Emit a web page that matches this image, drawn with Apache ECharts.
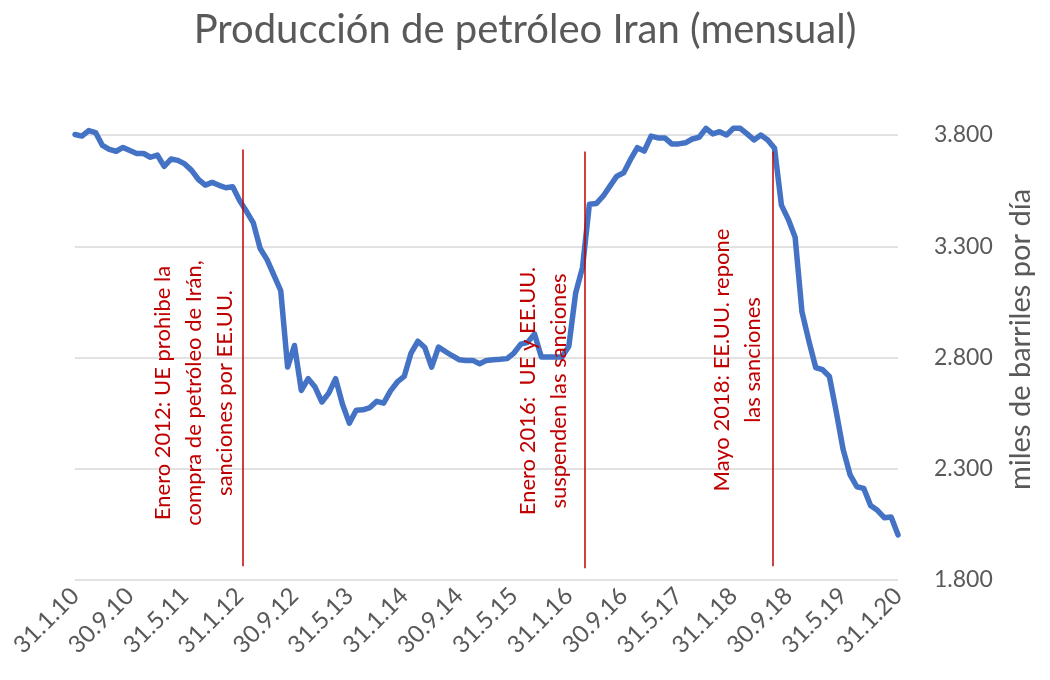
<!DOCTYPE html>
<html>
<head>
<meta charset="utf-8">
<title>Producción de petróleo Iran</title>
<script src="https://cdn.jsdelivr.net/npm/echarts@6/dist/echarts.min.js"></script>
<style>
  html, body { margin: 0; padding: 0; background: #fff; }
  #chart { width: 1050px; height: 680px; }
</style>
</head>
<body>
<div id="chart"></div>
<script>
// etiquetas del eje x, una cada 8 meses (ene 2010 .. ene 2020)
const tickLabels = [
  "31.1.10", "30.9.10", "31.5.11", "31.1.12", "30.9.12", "31.5.13", "31.1.14", "30.9.14",
  "31.5.15", "31.1.16", "30.9.16", "31.5.17", "31.1.18", "30.9.18", "31.5.19", "31.1.20"
];

// miles de barriles por día, mensual desde enero 2010
const production = [
  3802, 3795, 3820, 3811, 3753, 3735, 3727, 3744, 3730, 3717,
  3717, 3700, 3710, 3659, 3692, 3686, 3670, 3641, 3600, 3575,
  3587, 3574, 3563, 3567, 3505, 3457, 3405, 3290, 3240, 3170,
  3100, 2757, 2854, 2652, 2705, 2667, 2600, 2640, 2705, 2590,
  2505, 2563, 2565, 2575, 2603, 2595, 2650, 2690, 2715, 2820,
  2873, 2845, 2757, 2847, 2827, 2808, 2790, 2787, 2787, 2772,
  2787, 2790, 2792, 2795, 2820, 2860, 2868, 2906, 2802, 2802,
  2802, 2802, 2850, 3090, 3205, 3489, 3492, 3525, 3570, 3615,
  3630, 3690, 3743, 3728, 3795, 3787, 3787, 3760, 3760, 3765,
  3782, 3790, 3830, 3805, 3815, 3800, 3830, 3830, 3805, 3778,
  3800, 3778, 3740, 3485, 3421, 3340, 3005, 2875, 2755, 2745,
  2715, 2555, 2387, 2274, 2219, 2212, 2135, 2113, 2080, 2083,
  2003
];

// sucesos marcados con línea roja (posición en meses desde ene 2010)
const eventMonths = [24.4, 74.3, 101.7];
const eventTop = [3735, 3726, 3726];
const eventBottom = [1862, 1853, 1862];
const eventTexts = [
  "Enero 2012: UE prohibe la\ncompra de petróleo de Irán,\nsanciones por EE.UU.",
  "Enero 2016:  UE y EE.UU.\nsuspenden las sanciones",
  "Mayo 2018: EE.UU. repone\nlas sanciones"
];
const textPos = [[194, 393], [543, 391], [737, 360]];

const FONT = "Lato";
const GREY = "#595959";
const RED = "#C00000";

const myChart = echarts.init(document.getElementById("chart"), null, { renderer: "canvas" });

const option = {
  animation: false,
  backgroundColor: "#fff",
  textStyle: { fontFamily: FONT },
  title: {
    text: "Producción de petróleo Iran (mensual)",
    left: "center",
    top: 5,
    textStyle: { fontFamily: FONT, fontSize: 40, fontWeight: "normal", color: GREY }
  },
  grid: { left: 75, right: 152, top: 135, bottom: 100 },
  xAxis: {
    type: "value",
    min: 0,
    max: 120,
    interval: 8,
    axisLine: { show: false },
    axisTick: { show: false },
    splitLine: { show: false },
    axisLabel: {
      rotate: 45,
      margin: 12,
      color: GREY,
      fontFamily: FONT,
      fontSize: 24,
      formatter: (v) => tickLabels[Math.round(v / 8)]
    }
  },
  yAxis: {
    type: "value",
    position: "right",
    min: 1800,
    max: 3800,
    interval: 500,
    axisLine: { show: false },
    axisTick: { show: false },
    splitLine: { lineStyle: { color: "#D9D9D9", width: 1.5 } },
    axisLabel: {
      margin: 36,
      color: GREY,
      fontFamily: FONT,
      fontSize: 23,
      formatter: (v) => String(v).replace(/\B(?=(\d{3})+(?!\d))/g, ".")
    },
    name: "miles de barriles por día",
    nameLocation: "middle",
    nameRotate: 90,
    nameGap: 108,
    nameTextStyle: { color: GREY, fontFamily: FONT, fontSize: 29, padding: [0, 0, 0, 36] }
  },
  series: [
    {
      name: "Producción",
      type: "line",
      clip: false,
      symbol: "none",
      data: production.map((v, i) => [i, v]),
      lineStyle: { color: "#4472C4", width: 5.5, cap: "round", join: "round" },
      z: 2,
      markLine: {
        silent: true,
        symbol: "none",
        label: { show: false },
        lineStyle: { color: RED, width: 1.5, type: "solid" },
        data: eventMonths.map((m, k) => [
          { coord: [m, eventTop[k]] },
          { coord: [m, eventBottom[k]] }
        ])
      }
    }
  ],
  graphic: eventTexts.map((t, k) => ({
    type: "text",
    x: textPos[k][0],
    y: textPos[k][1],
    rotation: Math.PI / 2,
    z: 10,
    style: {
      text: t,
      fill: RED,
      font: "22px " + FONT,
      lineHeight: 31,
      align: "center",
      verticalAlign: "middle"
    }
  }))
};

myChart.setOption(option);
</script>
</body>
</html>
